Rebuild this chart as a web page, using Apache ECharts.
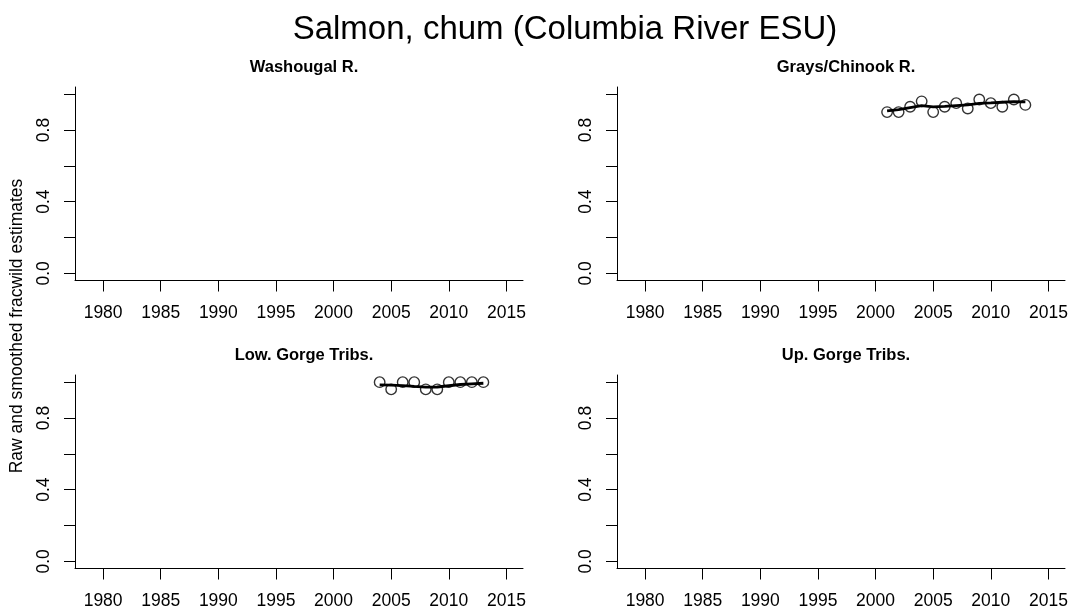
<!DOCTYPE html>
<html>
<head>
<meta charset="utf-8">
<script src="https://cdn.jsdelivr.net/npm/echarts@6/dist/echarts.min.js"></script>
<style>
	html, body { margin: 0; padding: 0; background: #fff; }
	#chart { width: 1074px; height: 616px; }
</style>
</head>
<body>
<div id="chart"></div>
<script>
var panelTitles = ['Washougal R.', 'Grays/Chinook R.', 'Low. Gorge Tribs.', 'Up. Gorge Tribs.'];
var xTicks = [1980, 1985, 1990, 1995, 2000, 2005, 2010, 2015];
var yTicks = [0, 0.2, 0.4, 0.6, 0.8, 1.0];
var yLabels = [0, 0.4, 0.8];

// Washougal R. - no estimates
var washougalYears = [];
var washougalRaw = [];
var washougalSmooth = [];

// Grays/Chinook R.
var graysYears = [2001, 2002, 2003, 2004, 2005, 2006, 2007, 2008, 2009, 2010, 2011, 2012, 2013];
var graysRaw = [0.90, 0.90, 0.93, 0.96, 0.90, 0.93, 0.95, 0.92, 0.97, 0.95, 0.93, 0.97, 0.94];
var graysSmooth = [0.907, 0.914, 0.925, 0.936, 0.929, 0.932, 0.936, 0.940, 0.949, 0.951, 0.955, 0.958, 0.957];

// Low. Gorge Tribs.
var lowGorgeYears = [2004, 2005, 2006, 2007, 2008, 2009, 2010, 2011, 2012, 2013];
var lowGorgeRaw = [1.00, 0.96, 1.00, 1.00, 0.96, 0.96, 1.00, 1.00, 1.00, 1.00];
var lowGorgeSmooth = [0.985, 0.983, 0.981, 0.976, 0.972, 0.973, 0.980, 0.987, 0.991, 0.994];

// Up. Gorge Tribs. - no estimates
var upGorgeYears = [];
var upGorgeRaw = [];
var upGorgeSmooth = [];

var FONT = '"Liberation Sans", Arial, Helvetica, sans-serif';

function pairs(xs, ys) {
	var out = [];
	for (var i = 0; i < xs.length; i++) out.push([xs[i], ys[i]]);
	return out;
}

var panels = [
	{ years: washougalYears, raw: washougalRaw, smooth: washougalSmooth, left: 75, top: 87 },
	{ years: graysYears, raw: graysRaw, smooth: graysSmooth, left: 617, top: 87 },
	{ years: lowGorgeYears, raw: lowGorgeRaw, smooth: lowGorgeSmooth, left: 75, top: 375 },
	{ years: upGorgeYears, raw: upGorgeRaw, smooth: upGorgeSmooth, left: 617, top: 375 }
];

var grids = [], xAxes = [], yAxes = [], series = [], titles = [];

panels.forEach(function(p, i) {
	grids.push({ left: p.left, top: p.top, width: 448, height: 193.5 });
	titles.push({
		text: panelTitles[i],
		left: p.left + 224,
		top: p.top - 33,
		textAlign: 'center',
		textStyle: { fontFamily: FONT, fontSize: 16.5, fontWeight: 'bold', color: '#000' }
	});
	xAxes.push({
		type: 'value', gridIndex: i,
		min: 1977.56, max: 2016.44,
		axisLine: { show: true, onZero: false, lineStyle: { color: '#000', width: 1 } },
		axisTick: { show: true, length: 11, customValues: xTicks, lineStyle: { color: '#000', width: 1 } },
		axisLabel: {
			customValues: xTicks, margin: 24,
			fontFamily: FONT, fontSize: 17.5, color: '#000',
			formatter: function(v) { return String(v); }
		},
		splitLine: { show: false }
	});
	yAxes.push({
		type: 'value', gridIndex: i,
		min: -0.04, max: 1.04,
		axisLine: { show: true, onZero: false, lineStyle: { color: '#000', width: 1 } },
		axisTick: { show: true, length: 11, customValues: yTicks, lineStyle: { color: '#000', width: 1 } },
		axisLabel: {
			customValues: yLabels, rotate: 90, margin: 22,
			fontFamily: FONT, fontSize: 17.5, color: '#000',
			formatter: function(v) { return v.toFixed(1); }
		},
		splitLine: { show: false }
	});
	series.push({
		type: 'line', xAxisIndex: i, yAxisIndex: i,
		data: pairs(p.years, p.smooth),
		showSymbol: false, smooth: false,
		lineStyle: { color: '#000', width: 2.8 },
		z: 3
	});
	series.push({
		type: 'scatter', xAxisIndex: i, yAxisIndex: i,
		data: pairs(p.years, p.raw),
		symbol: 'circle', symbolSize: 10.5,
		itemStyle: { color: 'rgba(0,0,0,0)', borderColor: '#000', borderWidth: 1.4 },
		z: 4
	});
});

titles.push({
	text: 'Salmon, chum (Columbia River ESU)',
	left: 560, top: 8,
	textAlign: 'center',
	textStyle: { fontFamily: FONT, fontSize: 33, fontWeight: 'normal', color: '#000' }
});

var chart = echarts.init(document.getElementById('chart'));
chart.setOption({
	backgroundColor: '#fff',
	animation: false,
	title: titles,
	grid: grids,
	xAxis: xAxes,
	yAxis: yAxes,
	series: series,
	graphic: [{
		type: 'text',
		x: 17, y: 326,
		rotation: Math.PI / 2,
		style: {
			text: 'Raw and smoothed fracwild estimates',
			fontFamily: FONT, fontSize: 17.5, fill: '#000',
			textAlign: 'center', textVerticalAlign: 'middle'
		}
	}]
});
</script>
</body>
</html>
